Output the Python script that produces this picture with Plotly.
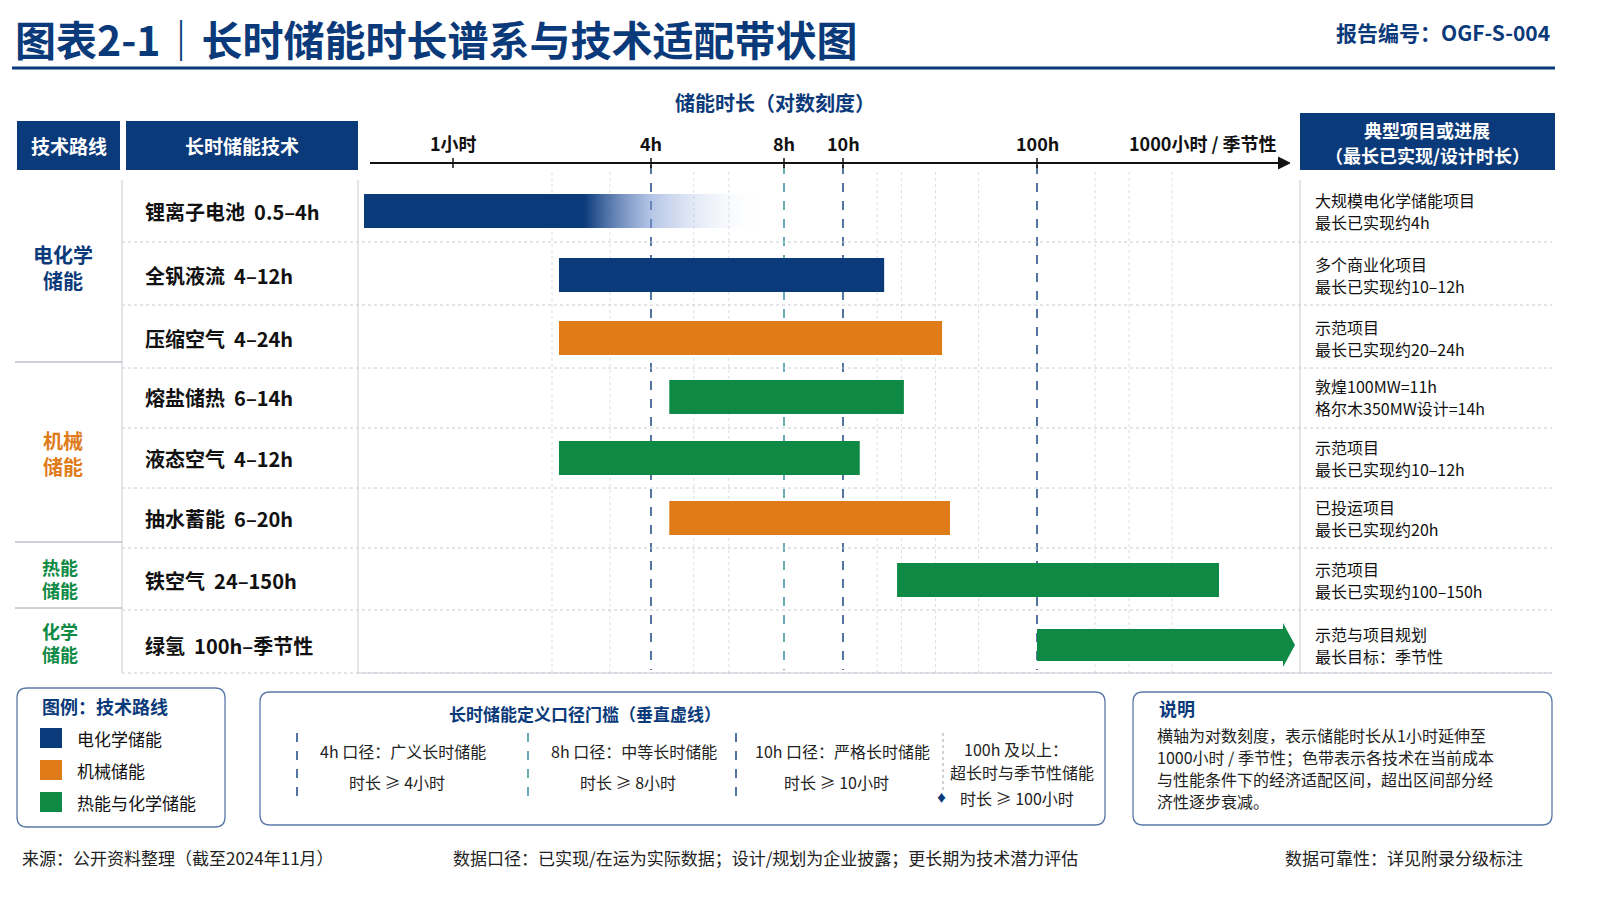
import numpy as np
import plotly.graph_objects as go

NAVY = "#0B3A7A"; ORANGE = "#E07B1A"; GREEN = "#0E8A45"; TEAL = "#2A8A9A"
FONT = "Noto Sans CJK SC"

# ---- data ----
techs = ["锂离子电池  0.5–4h", "全钒液流  4–12h", "压缩空气  4–24h", "熔盐储热  6–14h",
         "液态空气  4–12h", "抽水蓄能  6–20h", "铁空气  24–150h", "绿氢  100h–季节性"]
bar_start = [0.5, 2.1, 2.1, 4.4, 2.1, 4.4, 19, 100]   # hours, as drawn on axis
bar_end = [7.2, 16.3, 32.4, 20.6, 12.2, 35.6, 877, 1600]
bar_color = ["grad", NAVY, ORANGE, GREEN, GREEN, ORANGE, GREEN, GREEN]
projects = [("大规模电化学储能项目", "最长已实现约4h"), ("多个商业化项目", "最长已实现约10–12h"),
            ("示范项目", "最长已实现约20–24h"), ("敦煌100MW=11h", "格尔木350MW设计=14h"),
            ("示范项目", "最长已实现约10–12h"), ("已投运项目", "最长已实现约20h"),
            ("示范项目", "最长已实现约100–150h"), ("示范与项目规划", "最长目标：季节性")]
tick_vals = [1, 4, 8, 10, 100, 1000]
tick_text = ["1小时", "4h", "8h", "10h", "100h", "1000小时 / 季节性"]
thresholds = [4, 8, 10, 100]
minor = [2, 3, 5, 6, 15, 20, 30, 50, 200, 300, 500]

# stylised (piecewise-log) axis as drawn in the original
anchor_h = [0.5, 1, 4, 8, 10, 100, 1000, 1600]
anchor_px = [364, 453, 651, 784, 843, 1037, 1230, 1295]
def pos(h):
    return float(np.interp(np.log10(h), np.log10(anchor_h), anchor_px))

row_y = [211, 275, 338, 397, 458, 518, 580, 645]
row_sep = [180, 242, 305, 368, 428, 488, 548, 610, 673]

fig = go.Figure()
shapes = []; ann = []

def text(x, y, s, size=14, color="#222", bold=False, xanchor="left", yanchor="middle"):
    ann.append(dict(x=x, y=y, text=f"<b>{s}</b>" if bold else s, showarrow=False,
                    xanchor=xanchor, yanchor=yanchor, font=dict(size=size, color=color, family=FONT)))

def rrect(x0, y0, x1, y1, r=10, line="#5A7AA8"):
    p = (f"M{x0+r},{y0} L{x1-r},{y0} Q{x1},{y0} {x1},{y0+r} L{x1},{y1-r} Q{x1},{y1} {x1-r},{y1} "
         f"L{x0+r},{y1} Q{x0},{y1} {x0},{y1-r} L{x0},{y0+r} Q{x0},{y0} {x0+r},{y0} Z")
    shapes.append(dict(type="path", path=p, line=dict(color=line, width=1.3), fillcolor="white"))

# title
text(13, 38, "图表2-1｜长时储能时长谱系与技术适配带状图", 41, NAVY, True)
text(1552, 32, "报告编号：OGF-S-004", 21, NAVY, True, "right")
shapes.append(dict(type="line", x0=12, x1=1555, y0=68, y1=68, line=dict(color=NAVY, width=3)))
text(775, 102, "储能时长（对数刻度）", 20, NAVY, True, "center")

# headers
for x0, x1, s in [(17, 120, "技术路线"), (126, 358, "长时储能技术")]:
    shapes.append(dict(type="rect", x0=x0, x1=x1, y0=121, y1=170, fillcolor=NAVY, line_width=0))
    text((x0 + x1) / 2, 145, s, 19, "white", True, "center")
shapes.append(dict(type="rect", x0=1300, x1=1555, y0=113, y1=170, fillcolor=NAVY, line_width=0))
text(1427, 130, "典型项目或进展", 18, "white", True, "center")
text(1427, 155, "（最长已实现/设计时长）", 18, "white", True, "center")

# grid
for v in minor:
    x = pos(v)
    shapes.append(dict(type="line", x0=x, x1=x, y0=172, y1=673, layer="below",
                       line=dict(color="#DADDE3", width=1, dash="dot")))
for v in thresholds:
    x = pos(v)
    shapes.append(dict(type="line", x0=x, x1=x, y0=165, y1=670, layer="below",
                       line=dict(color=TEAL if v == 8 else NAVY, width=1.4, dash="dash")))

# row separators
for y in row_sep[1:]:
    shapes.append(dict(type="line", x0=122, x1=1552, y0=y, y1=y, layer="below",
                       line=dict(color="#C8CCD4", width=1, dash="dot")))
for xv in [122, 358, 1300]:
    shapes.append(dict(type="line", x0=xv, x1=xv, y0=180, y1=673, line=dict(color="#C8CCD4", width=1)))
shapes.append(dict(type="line", x0=358, x1=1552, y0=673, y1=673, line=dict(color="#C8CCD4", width=1)))
for y in [362, 542, 608]:
    shapes.append(dict(type="line", x0=15, x1=122, y0=y, y1=y, line=dict(color="#9AA3B0", width=1)))
for (y, s, c) in [(267, "电化学<br>储能", NAVY), (453, "机械<br>储能", ORANGE),
                  (578, "热能<br>储能", GREEN), (642, "化学<br>储能", GREEN)]:
    text(63 if y < 560 else 60, y, s, 20 if y < 560 else 18, c, True, "center")

# axis
shapes.append(dict(type="line", x0=370, x1=1280, y0=163, y1=163, line=dict(color="#111", width=2)))
fig.add_trace(go.Scatter(x=[1278, 1290, 1278], y=[157, 163, 169], fill="toself", mode="lines",
                         line=dict(color="#111", width=1), fillcolor="#111", hoverinfo="skip"))
for v, t in zip(tick_vals, tick_text):
    x = pos(v)
    if v != 1000:
        shapes.append(dict(type="line", x0=x, x1=x, y0=158, y1=168, line=dict(color="#111", width=1.5)))
    text(x + (-27 if v == 1000 else 0), 143, t, 18, "#111", True, "center")

# bars
for i in range(len(techs)):
    x0, x1, yc = pos(bar_start[i]), pos(bar_end[i]), row_y[i]
    h = 17
    text(143, yc, techs[i], 20, "#111", True)
    text(1313, yc - 11, projects[i][0], 16, "#111")
    text(1313, yc + 11, projects[i][1], 16, "#111")
    if bar_color[i] == "grad":
        fig.add_trace(go.Scatter(x=[x0, x1, x1, x0, x0], y=[yc - h, yc - h, yc + h, yc + h, yc - h],
                                 fill="toself", mode="lines", line=dict(width=0),
                                 fillgradient=dict(type="horizontal",
                                                   colorscale=[[0, NAVY], [0.55, NAVY], [0.72, "rgba(120,150,210,0.55)"],
                                                               [1, "rgba(255,255,255,0)"]]),
                                 hoverinfo="skip"))
    elif i == len(techs) - 1:
        xe = x1 - 12
        fig.add_trace(go.Scatter(x=[x0, xe, xe, x1, xe, xe, x0, x0],
                                 y=[yc - 16, yc - 16, yc - 22, yc, yc + 22, yc + 16, yc + 16, yc - 16],
                                 fill="toself", mode="lines", line=dict(width=0), fillcolor=bar_color[i], hoverinfo="skip"))
    else:
        shapes.append(dict(type="rect", x0=x0, x1=x1, y0=yc - h, y1=yc + h, fillcolor=bar_color[i], line_width=0))

# bottom boxes
rrect(17, 688, 225, 827)
text(40, 706, "图例：技术路线", 18, NAVY, True)
for j, (c, s) in enumerate([(NAVY, "电化学储能"), (ORANGE, "机械储能"), (GREEN, "热能与化学储能")]):
    y = 738 + j * 32
    shapes.append(dict(type="rect", x0=40, x1=62, y0=y - 10, y1=y + 10, fillcolor=c, line_width=0))
    text(75, y, s, 17, "#111")

rrect(260, 692, 1105, 825)
text(585, 713, "长时储能定义口径门槛（垂直虚线）", 17, NAVY, True, "center")
for xl, c, t1, t2 in [(297, NAVY, "4h 口径：广义长时储能", "时长 ≥ 4小时"), (528, TEAL, "8h 口径：中等长时储能", "时长 ≥ 8小时"),
                      (736, NAVY, "10h 口径：严格长时储能", "时长 ≥ 10小时")]:
    shapes.append(dict(type="line", x0=xl, x1=xl, y0=733, y1=800, line=dict(color=c, width=1.4, dash="dash")))
    text(xl + 106, 751, t1, 16, "#222", False, "center")
    text(xl + 100, 782, t2, 16, "#222", False, "center")
shapes.append(dict(type="line", x0=943, x1=943, y0=733, y1=790, line=dict(color="#9AA3B0", width=1, dash="dot")))
text(1016, 749, "100h 及以上：", 16, "#222", False, "center")
text(1022, 772, "超长时与季节性储能", 16, "#222", False, "center")
text(941, 797, "♦", 11, NAVY, False, "center")
text(958, 798, "时长 ≥ 100小时", 16, "#222")

rrect(1133, 692, 1552, 825)
text(1157, 708, "说明", 18, NAVY, True)
for j, s in enumerate(["横轴为对数刻度，表示储能时长从1小时延伸至", "1000小时 / 季节性；色带表示各技术在当前成本",
                       "与性能条件下的经济适配区间，超出区间部分经", "济性逐步衰减。"]):
    text(1155, 735 + j * 22, s, 16, "#222")

text(20, 857, "来源：公开资料整理（截至2024年11月）", 17, "#222")
text(765, 857, "数据口径：已实现/在运为实际数据；设计/规划为企业披露；更长期为技术潜力评估", 17, "#222", False, "center")
text(1525, 857, "数据可靠性：详见附录分级标注", 17, "#222", False, "right")

fig.update_layout(width=1600, height=900, margin=dict(l=0, r=0, t=0, b=0), showlegend=False,
                  plot_bgcolor="white", paper_bgcolor="white", shapes=shapes, annotations=ann,
                  xaxis=dict(range=[0, 1600], visible=False, fixedrange=True),
                  yaxis=dict(range=[900, 0], visible=False, fixedrange=True))
fig.write_html("out.html", config={"displayModeBar": False})
with open("out.html", encoding="utf-8") as f:
    html = f.read()
html = html.replace("<head>", "<head><style>html,body{margin:0;padding:0;overflow:hidden}</style>", 1)
with open("out.html", "w", encoding="utf-8") as f:
    f.write(html)
